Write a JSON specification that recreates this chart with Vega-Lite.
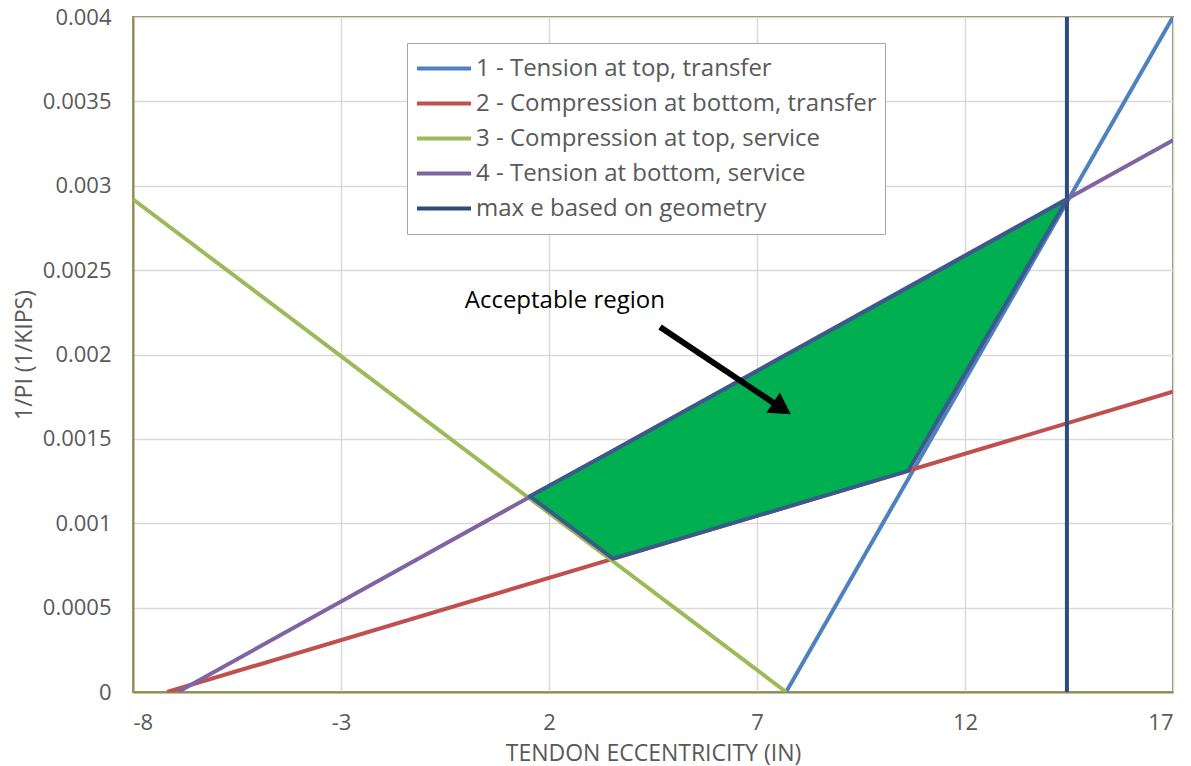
{
  "$schema": "https://vega.github.io/schema/vega-lite/v6.json",
  "width": 1040,
  "height": 675,
  "autosize": {"type": "none"},
  "padding": {"left": 133, "top": 17, "right": 18, "bottom": 74},
  "background": "white",
  "config": {
    "font": "Open Sans",
    "view": {"stroke": "#938953", "strokeWidth": 2},
    "axis": {
      "labelColor": "#595959",
      "titleColor": "#595959",
      "labelFont": "Open Sans",
      "titleFont": "Open Sans",
      "labelFontSize": 22,
      "titleFontSize": 23,
      "titleFontWeight": "normal",
      "gridColor": "#D9D9D9",
      "gridWidth": 1.5,
      "ticks": false,
      "domainColor": "#938953",
      "domainWidth": 2
    }
  },
  "datasets": {
    "lines": [
      {"series": "1 - Tension at top, transfer", "e": 7.7, "v": 0},
      {"series": "1 - Tension at top, transfer", "e": 17, "v": 0.004},
      {"series": "2 - Compression at bottom, transfer", "e": -7.18, "v": 0},
      {"series": "2 - Compression at bottom, transfer", "e": 17, "v": 0.00178},
      {"series": "3 - Compression at top, service", "e": -8, "v": 0.00292},
      {"series": "3 - Compression at top, service", "e": 7.7, "v": 0},
      {"series": "4 - Tension at bottom, service", "e": -6.92, "v": 0},
      {"series": "4 - Tension at bottom, service", "e": 17, "v": 0.00327},
      {"series": "max e based on geometry", "e": 14.45, "v": 0},
      {"series": "max e based on geometry", "e": 14.45, "v": 0.004}
    ],
    "region": [
      {"e": 1.54, "upper": 0.00116, "lower": 0.00116},
      {"e": 3.54, "upper": 0.00143, "lower": 0.00079},
      {"e": 10.63, "upper": 0.002397, "lower": 0.00131},
      {"e": 14.45, "upper": 0.00292, "lower": 0.00292}
    ],
    "arrow": [
      {"e": 4.67, "v": 0.002163, "e2": 7.6, "v2": 0.00168}
    ],
    "label": [
      {"e": 2.38, "v": 0.002317, "text": "Acceptable region"}
    ]
  },
  "layer": [
    {
      "data": {"name": "lines"},
      "mark": {"type": "line", "strokeWidth": 4, "clip": true},
      "encoding": {
        "x": {
          "field": "e", "type": "quantitative",
          "scale": {"domain": [-8, 17], "nice": false, "zero": false},
          "axis": {"values": [-8, -3, 2, 7, 12, 17], "labelExpr": "datum.value < 0 ? '-' + abs(datum.value) : '' + datum.value", "title": "TENDON ECCENTRICITY (IN)", "labelPadding": 20, "titlePadding": 9, "grid": true}
        },
        "y": {
          "field": "v", "type": "quantitative",
          "scale": {"domain": [0, 0.004], "nice": false},
          "axis": {"values": [0, 0.0005, 0.001, 0.0015, 0.002, 0.0025, 0.003, 0.0035, 0.004], "format": ".4~g", "title": "1/PI  (1/KIPS)", "labelPadding": 22, "titlePadding": 6, "grid": true}
        },
        "color": {
          "field": "series", "type": "nominal",
          "scale": {
            "domain": ["1 - Tension at top, transfer", "2 - Compression at bottom, transfer", "3 - Compression at top, service", "4 - Tension at bottom, service", "max e based on geometry"],
            "range": ["#4F81BD", "#C0504D", "#9BBB59", "#8064A2", "#2C4D7C"]
          },
          "legend": {
            "title": null,
            "orient": "none",
            "legendX": 274,
            "legendY": 26,
            "symbolType": "stroke",
            "symbolSize": 2916,
            "symbolStrokeWidth": 4,
            "labelFontSize": 24,
            "labelColor": "#595959",
            "labelFont": "Open Sans",
            "labelLimit": 600,
            "strokeColor": "#A6A6A6",
            "fillColor": "white",
            "padding": 8,
            "rowPadding": 0,
            "clipHeight": 35,
            "labelOffset": 3
          }
        },
        "detail": {"field": "series"}
      }
    },
    {
      "data": {"name": "region"},
      "mark": {"type": "area", "color": "#00B050", "stroke": "#3A5A8C", "strokeWidth": 4, "strokeJoin": "round"},
      "encoding": {
        "x": {"field": "e", "type": "quantitative"},
        "y": {"field": "upper", "type": "quantitative"},
        "y2": {"field": "lower"}
      }
    },
    {
      "data": {"name": "arrow"},
      "mark": {"type": "rule", "color": "black", "strokeWidth": 6},
      "encoding": {
        "x": {"field": "e", "type": "quantitative"},
        "y": {"field": "v", "type": "quantitative"},
        "x2": {"field": "e2"},
        "y2": {"field": "v2"}
      }
    },
    {
      "data": {"name": "arrow"},
      "mark": {"type": "point", "shape": "triangle-up", "filled": true, "color": "black", "size": 600, "angle": 123.5, "opacity": 1},
      "encoding": {
        "x": {"field": "e2", "type": "quantitative"},
        "y": {"field": "v2", "type": "quantitative"}
      }
    },
    {
      "data": {"name": "label"},
      "mark": {"type": "text", "font": "Open Sans", "fontSize": 24, "color": "black", "align": "center", "baseline": "middle"},
      "encoding": {
        "x": {"field": "e", "type": "quantitative"},
        "y": {"field": "v", "type": "quantitative"},
        "text": {"field": "text"}
      }
    }
  ]
}
